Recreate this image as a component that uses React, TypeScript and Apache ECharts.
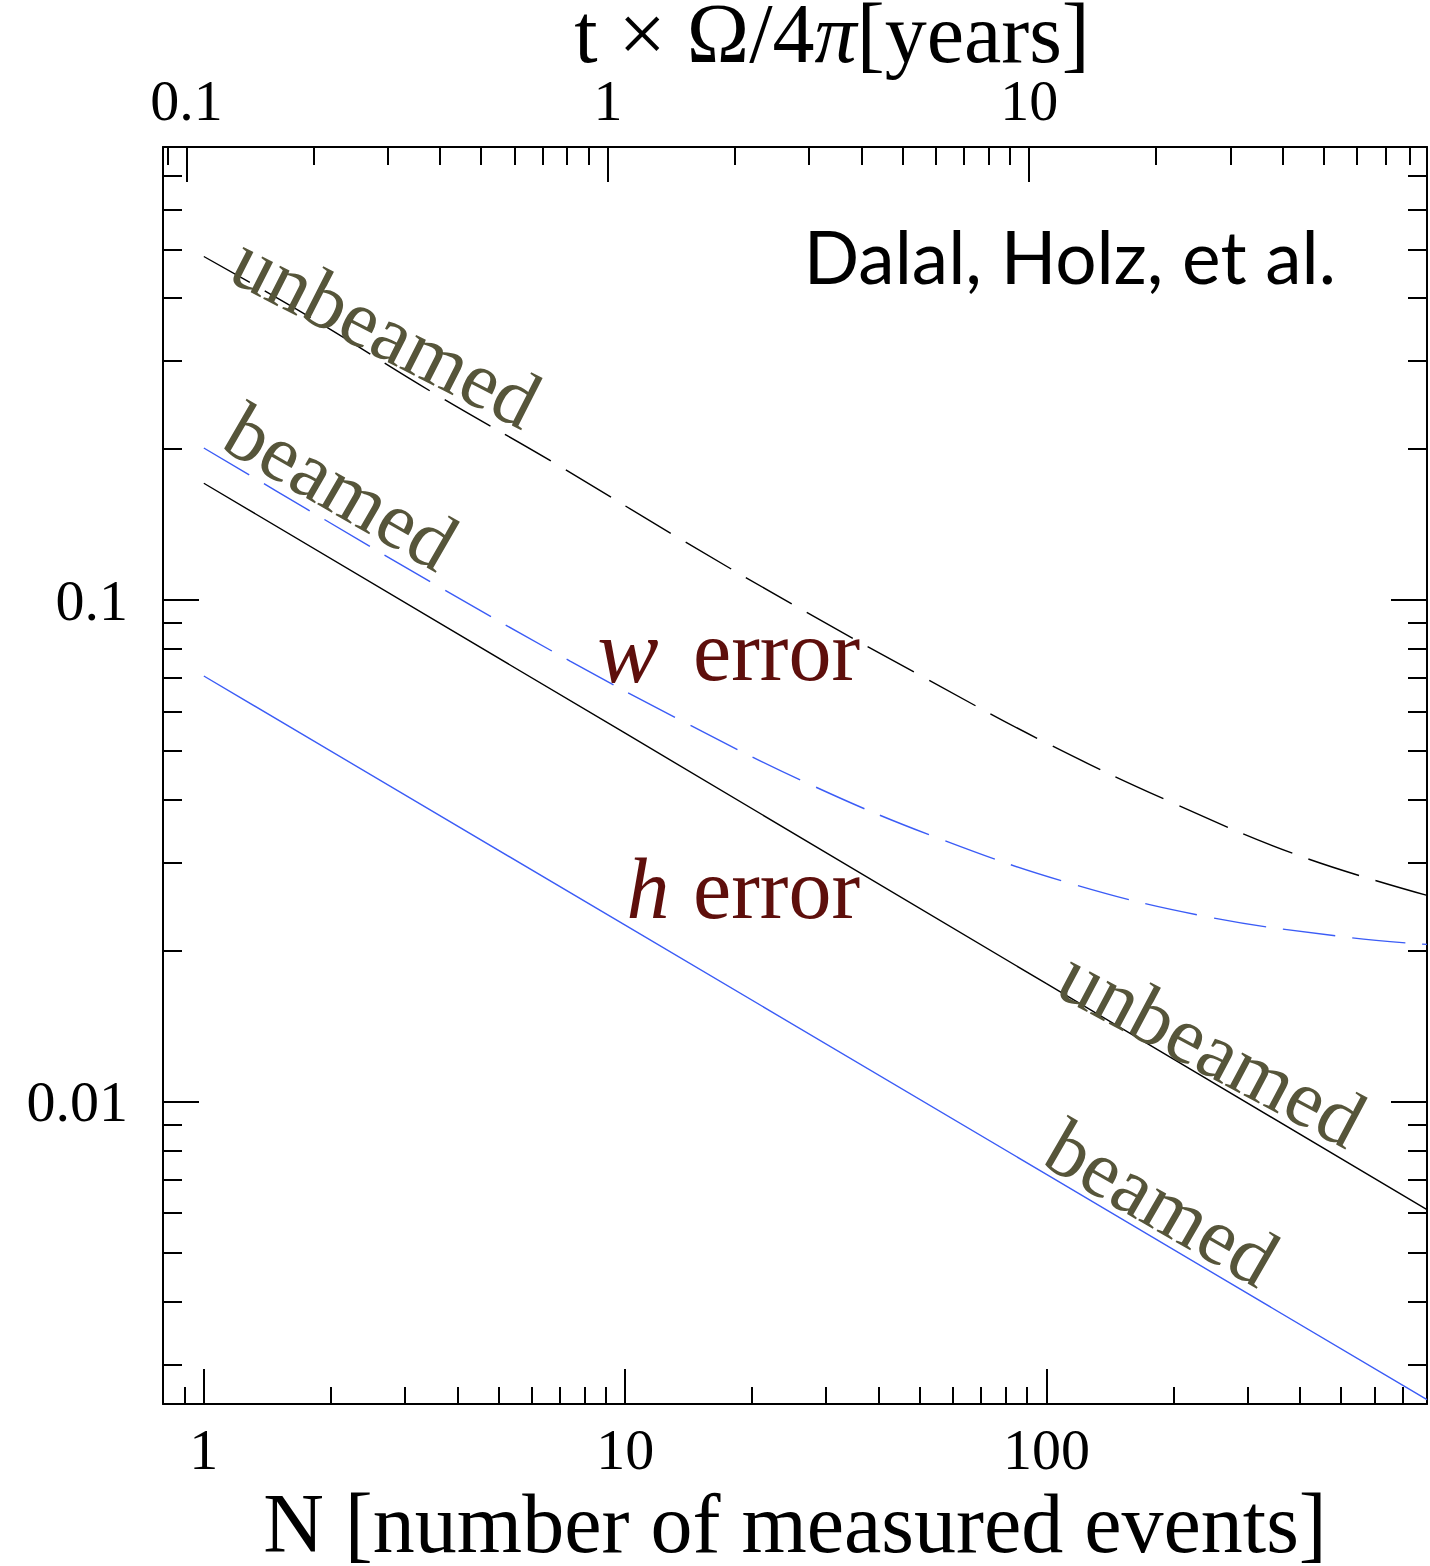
import React, { useEffect, useRef } from "react";
import * as echarts from "echarts";

// ---- axis ranges ----
const N_MIN = 0.8;
const N_MAX = 800;
const ERR_MIN = 0.0025;
const ERR_MAX = 0.8;
const YEARS_PER_EVENT = 1 / 9.1; // top axis: t × Ω/4π [years] = N / 9.1

// ---- tick marks ----
const nMajorTicks = [1, 10, 100];
const nMinorTicks = [0.8, 0.9, 2, 3, 4, 5, 6, 7, 8, 9, 20, 30, 40, 50, 60, 70, 80, 90, 200, 300, 400, 500, 600, 700, 800];
const tMajorTicks = [0.1, 1, 10];
const tMinorTicks = [0.09, 0.2, 0.3, 0.4, 0.5, 0.6, 0.7, 0.8, 0.9, 2, 3, 4, 5, 6, 7, 8, 9, 20, 30, 40, 50, 60, 70, 80];
const errMajorTicks = [0.01, 0.1];
const errMinorTicks = [0.003, 0.004, 0.005, 0.006, 0.007, 0.008, 0.009, 0.02, 0.03, 0.04, 0.05, 0.06, 0.07, 0.08, 0.09, 0.2, 0.3, 0.4, 0.5, 0.6, 0.7, 0.8];

// ---- curves ----
const wUnbeamedN = [1, 1.8, 3.5, 6.8, 13, 25, 50, 100, 200, 400, 800];
const wUnbeamedErr = [0.484, 0.365, 0.259, 0.1875, 0.135, 0.098, 0.0709, 0.0519, 0.0394, 0.0309, 0.0258];
const wBeamedN = [1, 1.8, 3.5, 7.4, 13.5, 27, 55, 115, 240, 515, 800];
const wBeamedErr = [0.201, 0.15, 0.108, 0.0756, 0.0577, 0.0432, 0.0336, 0.0272, 0.0234, 0.0213, 0.0206];
const hUnbeamedN = [1, 10, 100, 800];
const hUnbeamedErr = [0.171, 0.0543, 0.0172, 0.0061];
const hBeamedN = [1, 10, 100, 800];
const hBeamedErr = [0.0706, 0.0225, 0.00717, 0.00255];

const lg = Math.log10;
const SERIF = '"Liberation Serif", "Times New Roman", serif';
const OLIVE = "#56553a";
const MAROON = "#5e0f0c";
const BLUE = "#3b5cf6";
const D = Math.PI / 180;

const pairs = (xs: number[], ys: number[]) => xs.map((x, i) => [lg(x), lg(ys[i])]);
const fmt = (v: number) => String(parseFloat(Math.pow(10, v).toPrecision(3)));

function axis(kind: "x" | "y", position: string, min: number, max: number, ticks: number[], len: number, major: boolean, labels: boolean, extra: any = {}) {
  return {
    type: "value",
    position,
    min,
    max,
    splitLine: { show: false },
    axisLine: { show: major, onZero: false, lineStyle: { color: "#000", width: 2 } },
    axisTick: { show: true, inside: true, length: len, customValues: ticks.map(lg), lineStyle: { color: "#000", width: 2 } },
    axisLabel: labels
      ? { show: true, customValues: ticks.map(lg), formatter: fmt, fontFamily: SERIF, fontSize: 58, color: "#000", margin: kind === "x" ? (position === "bottom" ? 16 : 18) : 35, hideOverlap: false }
      : { show: false },
    ...extra,
  };
}

export default function App() {
  const ref = useRef<HTMLDivElement>(null);
  useEffect(() => {
    if (!ref.current) return;
    const chart = echarts.init(ref.current, null, { renderer: "svg" });
    const xb = [lg(N_MIN), lg(N_MAX)];
    const xt = [lg(N_MIN * YEARS_PER_EVENT), lg(N_MAX * YEARS_PER_EVENT)];
    const yl = [lg(ERR_MIN), lg(ERR_MAX)];
    const option: any = {
      animation: false,
      backgroundColor: "#fff",
      grid: { left: 163, top: 147, right: 3, bottom: 162, containLabel: false, outerBoundsMode: "none" },
      xAxis: [
        axis("x", "bottom", xb[0], xb[1], nMajorTicks, 35, true, true, {
          name: "N [number of measured events]",
          nameLocation: "middle",
          nameGap: 83,
          nameMoveOverlap: false,
          nameTextStyle: { fontFamily: SERIF, fontSize: 84, lineHeight: 72, color: "#000" },
        }),
        axis("x", "bottom", xb[0], xb[1], nMinorTicks, 17, false, false),
        axis("x", "top", xt[0], xt[1], tMajorTicks, 35, true, true, {
          name: "t × Ω/4{i|π}[years]",
          nameLocation: "middle",
          nameGap: 81,
          nameMoveOverlap: false,
          nameTextStyle: {
            fontFamily: SERIF, fontSize: 84, lineHeight: 66, color: "#000", padding: [0, 0, 0, 74],
            rich: { i: { fontFamily: SERIF, fontSize: 84, lineHeight: 66, fontStyle: "italic", color: "#000" } },
          },
        }),
        axis("x", "top", xt[0], xt[1], tMinorTicks, 18, false, false),
      ],
      yAxis: [
        axis("y", "left", yl[0], yl[1], errMajorTicks, 36, true, true),
        axis("y", "left", yl[0], yl[1], errMinorTicks, 19, false, false),
        axis("y", "right", yl[0], yl[1], errMajorTicks, 36, true, false),
        axis("y", "right", yl[0], yl[1], errMinorTicks, 19, false, false),
      ],
      series: [
        {
          name: "w error unbeamed", type: "line", xAxisIndex: 0, yAxisIndex: 0,
          data: pairs(wUnbeamedN, wUnbeamedErr), showSymbol: false, smooth: 0.4,
          lineStyle: { color: "#000", width: 1.4, type: [53, 17] },
        },
        {
          name: "w error beamed", type: "line", xAxisIndex: 0, yAxisIndex: 0,
          data: pairs(wBeamedN, wBeamedErr), showSymbol: false, smooth: 0.4,
          lineStyle: { color: BLUE, width: 1.4, type: [53, 17] },
        },
        {
          name: "h error unbeamed", type: "line", xAxisIndex: 0, yAxisIndex: 0,
          data: pairs(hUnbeamedN, hUnbeamedErr), showSymbol: false,
          lineStyle: { color: "#000", width: 1.4 },
        },
        {
          name: "h error beamed", type: "line", xAxisIndex: 0, yAxisIndex: 0,
          data: pairs(hBeamedN, hBeamedErr), showSymbol: false,
          lineStyle: { color: BLUE, width: 1.4 },
        },
      ],
      graphic: [
        { type: "text", x: 386, y: 331, rotation: -27 * D, z: 100, style: { text: "unbeamed", fill: OLIVE, font: `81px ${SERIF}`, textAlign: "center", textVerticalAlign: "middle" } },
        { type: "text", x: 341, y: 487, rotation: -30 * D, z: 100, style: { text: "beamed", fill: OLIVE, font: `81px ${SERIF}`, textAlign: "center", textVerticalAlign: "middle" } },
        { type: "text", x: 1212, y: 1048, rotation: -28 * D, z: 100, style: { text: "unbeamed", fill: OLIVE, font: `81px ${SERIF}`, textAlign: "center", textVerticalAlign: "middle" } },
        { type: "text", x: 1162, y: 1203, rotation: -30 * D, z: 100, style: { text: "beamed", fill: OLIVE, font: `81px ${SERIF}`, textAlign: "center", textVerticalAlign: "middle" } },
        { type: "text", x: 628, y: 651, z: 100, style: { text: "w", fill: MAROON, font: `italic 92px ${SERIF}`, textAlign: "center", textVerticalAlign: "middle" } },
        { type: "text", x: 693, y: 651, z: 100, style: { text: "error", fill: MAROON, font: `86px ${SERIF}`, textAlign: "left", textVerticalAlign: "middle" } },
        { type: "text", x: 648, y: 889, z: 100, style: { text: "h", fill: MAROON, font: `italic 86px ${SERIF}`, textAlign: "center", textVerticalAlign: "middle" } },
        { type: "text", x: 693, y: 889, z: 100, style: { text: "error", fill: MAROON, font: `86px ${SERIF}`, textAlign: "left", textVerticalAlign: "middle" } },
        { type: "text", x: 1336, y: 256, z: 100, style: { text: "Dalal, Holz, et al.", fill: "#000", font: `73px Lato, "Open Sans", sans-serif`, textAlign: "right", textVerticalAlign: "middle" } },
      ],
    };
    chart.setOption(option);
    return () => chart.dispose();
  }, []);
  return (
    <div
      ref={ref}
      style={{ position: "fixed", left: 0, top: 0, width: 1430, height: 1566, background: "#fff" }}
    />
  );
}
